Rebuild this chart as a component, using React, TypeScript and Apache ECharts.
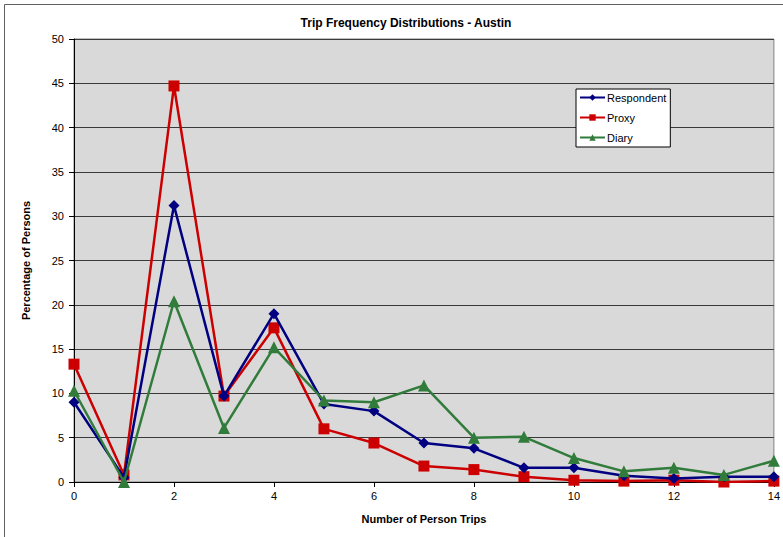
import React, { useEffect, useRef } from "react";
import * as echarts from "echarts";

const trips = [0, 1, 2, 3, 4, 5, 6, 7, 8, 9, 10, 11, 12, 13, 14];
const respondent = [9.0, 0.5, 31.2, 9.7, 19.0, 8.8, 8.0, 4.4, 3.8, 1.6, 1.6, 0.7, 0.4, 0.6, 0.6];
const proxy = [13.3, 0.8, 44.7, 9.7, 17.4, 6.0, 4.4, 1.8, 1.4, 0.6, 0.2, 0.1, 0.2, 0.0, 0.1];
const diary = [10.3, 0.0, 20.4, 6.1, 15.2, 9.2, 9.0, 10.9, 5.0, 5.1, 2.7, 1.2, 1.6, 0.8, 2.4];

const FONT = "'Liberation Sans', Arial, sans-serif";

export default function App() {
  const ref = useRef<HTMLDivElement>(null);
  useEffect(() => {
    if (!ref.current) return;
    const chart = echarts.init(ref.current, null, { renderer: "svg" });
    const mk = (vals: number[]) => trips.map((t, i) => [t, vals[i]]);
    chart.setOption({
      animation: false,
      backgroundColor: "#ffffff",
      textStyle: { fontFamily: FONT },
      title: {
        text: "Trip Frequency Distributions - Austin",
        left: 401,
        textAlign: "center",
        top: 12,
        textStyle: { fontSize: 12, fontWeight: "bold", color: "#000", fontFamily: FONT },
      },
      graphic: [
        {
          type: "rect",
          shape: { x: 4.5, y: 4.5, width: 900, height: 700 },
          style: { fill: "none", stroke: "#606060", lineWidth: 1 },
          silent: true,
        },
      ],
      legend: {
        orient: "vertical",
        left: 576,
        top: 89,
        backgroundColor: "#ffffff",
        borderColor: "#000",
        borderWidth: 1,
        padding: [3, 4, 4, 3],
        itemGap: 9,
        itemWidth: 25,
        itemHeight: 8,
        textStyle: { fontSize: 11, color: "#000", fontFamily: FONT, padding: [0, 0, 0, -3] },
        data: ["Respondent", "Proxy", "Diary"],
      },
      grid: {
        left: 74,
        right: 7,
        top: 39,
        bottom: 55,
        show: true,
        backgroundColor: "#d9d9d9",
        borderColor: "#808080",
        borderWidth: 1,
      },
      xAxis: {
        type: "value",
        min: 0,
        max: 14,
        interval: 2,
        name: "Number of Person Trips",
        nameLocation: "middle",
        nameGap: 31,
        nameTextStyle: { fontSize: 11, fontWeight: "bold", color: "#000", fontFamily: FONT },
        axisLine: { lineStyle: { color: "#000", width: 1 } },
        axisTick: { show: true, length: 5, lineStyle: { color: "#000" } },
        axisLabel: { fontSize: 11, color: "#000", margin: 8, fontFamily: FONT },
        splitLine: { show: false },
      },
      yAxis: {
        type: "value",
        min: 0,
        max: 50,
        interval: 5,
        name: "Percentage of Persons",
        nameLocation: "middle",
        nameGap: 43,
        nameTextStyle: { fontSize: 11, fontWeight: "bold", color: "#000", fontFamily: FONT },
        axisLine: { show: true, lineStyle: { color: "#000", width: 1 } },
        axisTick: { show: true, length: 5, lineStyle: { color: "#000" } },
        axisLabel: { fontSize: 11, color: "#000", margin: 10, fontFamily: FONT },
        splitLine: { show: true, lineStyle: { color: "#3a3a3a", width: 1 } },
      },
      series: [
        {
          name: "Respondent",
          type: "line",
          data: mk(respondent),
          symbol: "diamond",
          symbolSize: 11,
          color: "#000080",
          lineStyle: { width: 2.5, color: "#000080" },
          itemStyle: { color: "#000080" },
          z: 3,
        },
        {
          name: "Proxy",
          type: "line",
          data: mk(proxy),
          symbol: "rect",
          symbolSize: 11,
          color: "#cc0000",
          lineStyle: { width: 2.5, color: "#cc0000" },
          itemStyle: { color: "#cc0000" },
          z: 2,
        },
        {
          name: "Diary",
          type: "line",
          data: mk(diary),
          symbol: "triangle",
          symbolSize: 12,
          color: "#317b3b",
          lineStyle: { width: 2.5, color: "#317b3b" },
          itemStyle: { color: "#317b3b" },
          z: 4,
        },
      ],
    });
    return () => chart.dispose();
  }, []);
  return (
    <div
      ref={ref}
      style={{ position: "fixed", left: 0, top: 0, width: 783, height: 537 }}
    />
  );
}
